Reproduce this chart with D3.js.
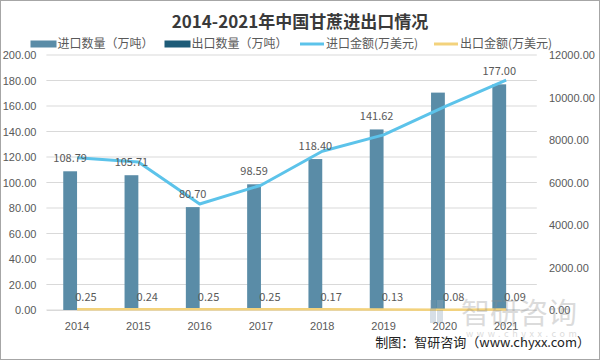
<!DOCTYPE html>
<html><head><meta charset="utf-8">
<script src="https://cdn.jsdelivr.net/npm/d3@7"></script>
<style>
html,body{margin:0;padding:0;background:#fff;}
svg{display:block;font-family:"Noto Sans CJK SC","Noto Sans",sans-serif;}
</style></head>
<body>
<svg id="c" width="600" height="360"></svg>
<script>
const years = ["2014","2015","2016","2017","2018","2019","2020","2021"];
const importQty = [108.79,105.71,80.70,98.59,118.40,141.62,170.50,177.00];
const exportQty = [0.25,0.24,0.25,0.25,0.17,0.13,0.08,0.09];
const importVal = [7160,6960,4990,5870,7470,8240,9570,10820];
const exportVal = [40,38,40,40,30,25,15,18];
const importQtyLabelShown = [true,true,true,true,true,true,false,true];
const leftTicks = [0,20,40,60,80,100,120,140,160,180,200];
const rightTicks = [0,2000,4000,6000,8000,10000,12000];
const legendNames = ["进口数量（万吨）","出口数量（万吨）","进口金额(万美元)","出口金额(万美元)"];

(function(){
const C = {imp:"#5a8ca7", exp:"#1d5b78", line:"#5cc3ea", yel:"#f3d27c", txt:"#595959", grid:"#d9d9d9"};
const svg = d3.select("#c");
const pL = 46.4, pR = 536.8, pT = 55, pB = 310;

svg.append("rect").attr("x",0.5).attr("y",0.5).attr("width",599).attr("height",359)
  .attr("fill","#fff").attr("stroke","#a6a6a6").attr("stroke-width",1);

const x = d3.scaleBand().domain(years).range([pL,pR]);
const yL = d3.scaleLinear().domain([0,200]).range([pB,pT]);
const yR = d3.scaleLinear().domain([0,12000]).range([pB,pT]);
const bw = 13.8;

svg.append("g").selectAll("line").data(leftTicks).join("line")
  .attr("x1",pL).attr("x2",pR).attr("y1",d=>yL(d)).attr("y2",d=>yL(d))
  .attr("stroke",C.grid).attr("stroke-width",1);

const axL = svg.append("g").attr("transform",`translate(${pL-10},0)`)
  .call(d3.axisLeft(yL).tickValues(leftTicks).tickFormat(d3.format(".2f")).tickSize(0).tickPadding(0));
axL.select(".domain").remove();
axL.selectAll("text").attr("fill",C.txt).style("font-size","11px").style("font-family","inherit").attr("dy","0.35em");

const axR = svg.append("g").attr("transform",`translate(549,0)`)
  .call(d3.axisRight(yR).tickValues(rightTicks).tickFormat(d3.format(".2f")).tickSize(0).tickPadding(0));
axR.select(".domain").remove();
axR.selectAll("text").attr("fill",C.txt).style("font-size","11px").style("font-family","inherit").attr("dy","0.35em");

const axX = svg.append("g").attr("transform",`translate(0,${pB})`)
  .call(d3.axisBottom(x).tickSize(0).tickPadding(12));
axX.select(".domain").attr("stroke",C.grid);
axX.selectAll("text").attr("fill",C.txt).style("font-size","11px").style("font-family","inherit");

const cx = d => x(d) + x.bandwidth()/2;

svg.append("g").selectAll("rect").data(years).join("rect")
  .attr("x",d=>cx(d)-bw).attr("width",bw)
  .attr("y",(d,i)=>yL(importQty[i])).attr("height",(d,i)=>yL(0)-yL(importQty[i]))
  .attr("fill",C.imp);
svg.append("g").selectAll("rect").data(years).join("rect")
  .attr("x",d=>cx(d)).attr("width",bw)
  .attr("y",(d,i)=>yL(exportQty[i])).attr("height",(d,i)=>yL(0)-yL(exportQty[i]))
  .attr("fill",C.exp);

const lineR = d3.line().x((d,i)=>cx(years[i])).y(d=>yR(d));
svg.append("path").datum(exportVal).attr("d",lineR).attr("fill","none")
  .attr("stroke",C.yel).attr("stroke-width",2.5);
svg.append("path").datum(importVal).attr("d",lineR).attr("fill","none")
  .attr("stroke",C.line).attr("stroke-width",3).attr("stroke-linejoin","round");

svg.append("g").selectAll("text").data(years.filter((d,i)=>importQtyLabelShown[i])).join("text")
  .attr("x",d=>cx(d)-bw/2).attr("y",d=>yL(importQty[years.indexOf(d)])-13)
  .attr("dy","0.35em").attr("text-anchor","middle").attr("fill",C.txt).style("font-size","11px")
  .text(d=>importQty[years.indexOf(d)].toFixed(2));
svg.append("g").selectAll("text").data(years).join("text")
  .attr("x",d=>cx(d)+bw/2+2).attr("y",(d,i)=>yL(exportQty[i])-13)
  .attr("dy","0.35em").attr("text-anchor","middle").attr("fill",C.txt).style("font-size","11px")
  .text((d,i)=>exportQty[i].toFixed(2));

const wm = svg.append("g").attr("opacity",0.3);
wm.append("rect").attr("x",430).attr("y",300).attr("width",6).attr("height",23).attr("fill","#7d97ad");
wm.append("rect").attr("x",437).attr("y",310).attr("width",6).attr("height",13).attr("fill","#7d97ad");
wm.append("rect").attr("x",437).attr("y",300).attr("width",6).attr("height",8).attr("fill","#9fb3c4");
wm.append("text").attr("x",461).attr("y",324).attr("fill","#8c8c8c").style("font-size","29px").text("智研咨询");
wm.append("text").attr("x",466).attr("y",337).attr("fill","#8c8c8c").style("font-size","9px")
  .attr("letter-spacing","3.6px").text("www.chyxx.com");

svg.append("text").attr("x",300).attr("y",28).attr("text-anchor","middle")
  .attr("fill","#3a3a3a").style("font-size","17px").style("font-weight","bold")
  .text("2014-2021年中国甘蔗进出口情况");

const lx = [30.5,164.5,300,434];
legendNames.forEach((n,i)=>{
  const g = svg.append("g").attr("transform",`translate(${lx[i]},44)`);
  if(i<2){
    g.append("rect").attr("x",0).attr("y",-3.5).attr("width",26).attr("height",7).attr("fill",i===0?C.imp:C.exp);
  } else {
    g.append("line").attr("x1",0).attr("x2",24).attr("y1",0).attr("y2",0)
      .attr("stroke",i===2?C.line:C.yel).attr("stroke-width",3);
  }
  g.append("text").attr("x",i<2?27:26).attr("y",0).attr("dy","0.35em").attr("fill",C.txt)
    .style("font-size","12px").text(n);
});

svg.append("text").attr("x",590).attr("y",347).attr("text-anchor","end")
  .attr("fill","#222").style("font-size","13px").text("制图：智研咨询（www.chyxx.com）");
})();
</script>
</body></html>
